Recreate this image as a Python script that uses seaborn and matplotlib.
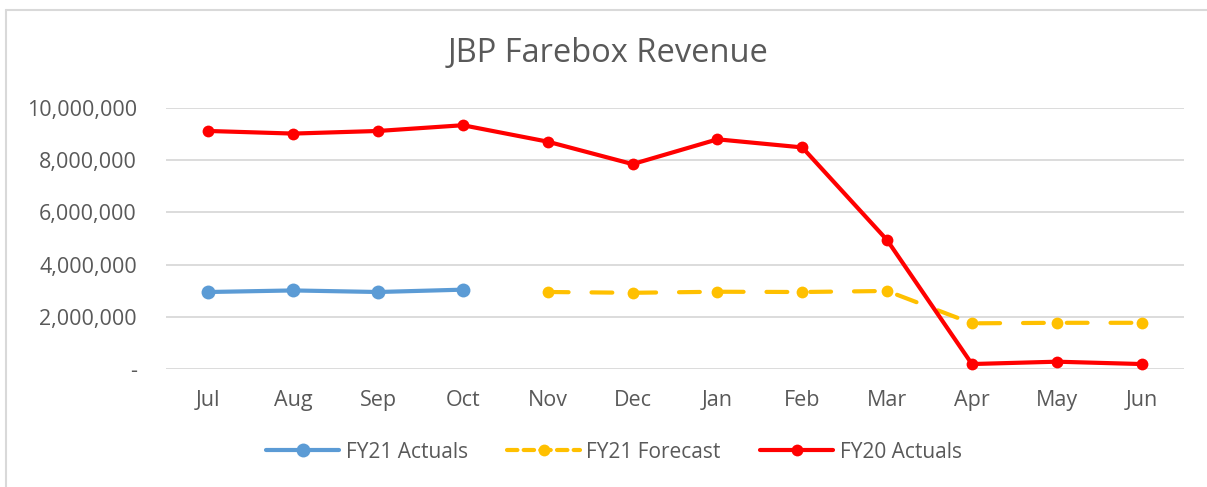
import matplotlib
matplotlib.use("Agg")
import matplotlib.pyplot as plt
import seaborn as sns
import pandas as pd
from matplotlib.lines import Line2D
from matplotlib.ticker import FuncFormatter

months = ["Jul", "Aug", "Sep", "Oct", "Nov", "Dec", "Jan", "Feb", "Mar", "Apr", "May", "Jun"]
fy21_actual_months = ["Jul", "Aug", "Sep", "Oct"]
fy21_actuals = [2950000, 3010000, 2950000, 3040000]
fy21_forecast_months = ["Nov", "Dec", "Jan", "Feb", "Mar", "Apr", "May", "Jun"]
fy21_forecast = [2950000, 2920000, 2960000, 2950000, 2990000, 1750000, 1770000, 1770000]
fy20_actuals = [9120000, 9020000, 9120000, 9340000, 8710000, 7850000, 8800000, 8490000,
                4940000, 190000, 280000, 190000]
y_ticks = [0, 2000000, 4000000, 6000000, 8000000, 10000000]

sns.set_theme(style="white")
plt.rcParams['font.family'] = ['Open Sans', 'DejaVu Sans']
TXT = "#595959"

fig = plt.figure(figsize=(12.07, 4.87), dpi=100)
ax = fig.add_axes([166/1207, 1-369/487, (1184-166)/1207, (369-108)/487])

pos = {m: i for i, m in enumerate(months)}
df_a = pd.DataFrame({"x": [pos[m] for m in fy21_actual_months], "y": fy21_actuals})
df_f = pd.DataFrame({"x": [pos[m] for m in fy21_forecast_months], "y": fy21_forecast})
df_r = pd.DataFrame({"x": list(range(len(months))), "y": fy20_actuals})

for yv in y_ticks:
    ax.axhline(yv, color="#d9d9d9", lw=1.3, zorder=0)

blue = "#5b9bd5"; yellow = "#ffc000"; red = "#ff0000"
sns.lineplot(data=df_a, x="x", y="y", ax=ax, color=blue, lw=3.0, marker="o",
             markersize=10, markeredgewidth=0, clip_on=False, zorder=3)
sns.lineplot(data=df_f, x="x", y="y", ax=ax, color=yellow, lw=3.0, marker="o",
             markersize=8.5, markeredgewidth=0, clip_on=False, zorder=2,
             dashes=False)
ax.lines[-1].set_dashes([5.0, 5.5])
ax.lines[-1].set_dash_capstyle("round")
sns.lineplot(data=df_r, x="x", y="y", ax=ax, color=red, lw=3.0, marker="o",
             markersize=8.5, markeredgewidth=0, clip_on=False, zorder=4)

ax.set_xlim(-0.5, 11.5)
ax.set_ylim(0, 10000000)
ax.set_xticks(range(len(months)))
ax.set_xticklabels(months)
ax.set_yticks(y_ticks)
ax.yaxis.set_major_formatter(FuncFormatter(lambda v, p: "-" if v == 0 else f"{int(v):,}"))
ax.tick_params(axis="both", length=0, labelsize=15.5, labelcolor=TXT)
ax.tick_params(axis="x", pad=15)
ax.tick_params(axis="y", pad=21)
for s in ax.spines.values():
    s.set_visible(False)
ax.set_xlabel(""); ax.set_ylabel("")

fig.text(608/1207, 1-53/487, "JBP Farebox Revenue", ha="center", va="center",
         fontsize=23.5, color=TXT)

handles = [
    Line2D([], [], color=blue, lw=3.0, marker="o", markersize=10, markeredgewidth=0),
    Line2D([], [], color=yellow, lw=3.0, marker="o", markersize=8.5, markeredgewidth=0,
           dashes=[2.5, 1.5], dash_capstyle="round"),
    Line2D([], [], color=red, lw=3.0, marker="o", markersize=8.5, markeredgewidth=0),
]
leg = fig.legend(handles, ["FY21 Actuals", "FY21 Forecast", "FY20 Actuals"],
                 loc="center", bbox_to_anchor=(614/1207, 1-452/487), ncol=3, frameon=False,
                 fontsize=15, handlelength=3.5, columnspacing=1.9, handletextpad=0.3)
for t in leg.get_texts():
    t.set_color(TXT)

fig.add_artist(Line2D([6/1207, 6/1207], [0, 1-10/487], transform=fig.transFigure,
                      color="#d9d9d9", lw=1.5))
fig.add_artist(Line2D([6/1207, 1], [1-10/487, 1-10/487], transform=fig.transFigure,
                      color="#d9d9d9", lw=1.5))

fig.savefig("out.png", dpi=100)
